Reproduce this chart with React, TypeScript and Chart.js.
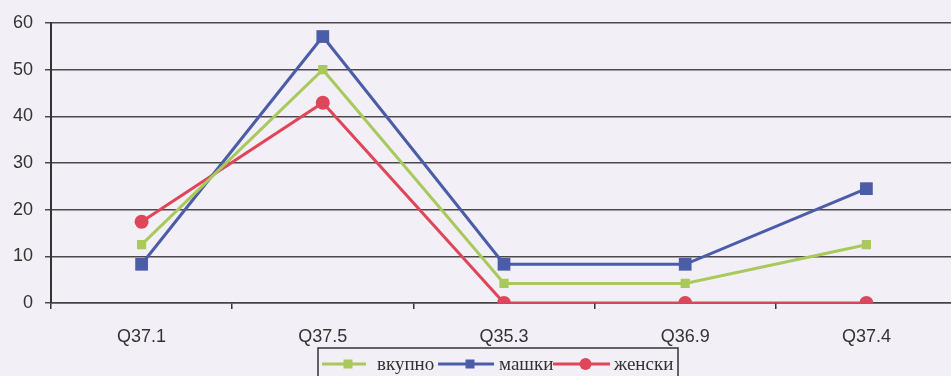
import React, { useEffect, useRef } from "react";
import { Chart, registerables } from "chart.js";

Chart.register(...registerables);

const categories = ["Q37.1", "Q37.5", "Q35.3", "Q36.9", "Q37.4"];
const vkupno = [12.5, 50, 4.2, 4.2, 12.5];
const mashki = [8.3, 57.1, 8.3, 8.3, 24.5];
const zhenski = [17.4, 42.9, 0, 0, 0];
const yTicks = [0, 10, 20, 30, 40, 50, 60];

const BG = "#f2eff6";
const GREEN = "#a9c95c";
const BLUE = "#4b5ca8";
const RED = "#e0465a";

const bgPlugin = {
  id: "bgFill",
  beforeDraw(chart: any) {
    const { ctx, width, height } = chart;
    ctx.save();
    ctx.fillStyle = BG;
    ctx.fillRect(0, 0, width, height);
    ctx.restore();
  },
};

const boxLegend = {
  id: "boxLegend",
  afterDraw(chart: any) {
    const { ctx } = chart;
    ctx.save();
    ctx.strokeStyle = "#333";
    ctx.lineWidth = 1.5;
    ctx.strokeRect(318, 348, 360, 40);
    const cy = 364;
    const items = [
      { label: "вкупно", color: GREEN, shape: "rect", r: 4.5, x0: 322, x1: 366, tx: 377 },
      { label: "машки", color: BLUE, shape: "rect", r: 4.5, x0: 438, x1: 494, tx: 499 },
      { label: "женски", color: RED, shape: "circle", r: 6, x0: 553, x1: 610, tx: 614 },
    ];
    ctx.font = "19px 'Liberation Serif', 'DejaVu Serif', serif";
    ctx.textBaseline = "middle";
    for (const it of items) {
      ctx.strokeStyle = it.color;
      ctx.lineWidth = 3;
      ctx.beginPath();
      ctx.moveTo(it.x0, cy);
      ctx.lineTo(it.x1, cy);
      ctx.stroke();
      ctx.fillStyle = it.color;
      const cx = (it.x0 + it.x1) / 2 + 4;
      if (it.shape === "rect") {
        ctx.fillRect(cx - it.r, cy - it.r, it.r * 2, it.r * 2);
      } else {
        ctx.beginPath();
        ctx.arc(cx, cy, it.r, 0, Math.PI * 2);
        ctx.fill();
      }
      ctx.fillStyle = "#333";
      ctx.fillText(it.label, it.tx, cy + 1);
    }
    ctx.restore();
  },
};

export default function App() {
  const ref = useRef<HTMLCanvasElement | null>(null);

  useEffect(() => {
    if (!ref.current) return;
    const chart = new Chart(ref.current, {
      type: "line",
      data: {
        labels: categories,
        datasets: [
          {
            label: "вкупно",
            data: vkupno,
            borderColor: GREEN,
            backgroundColor: GREEN,
            borderWidth: 3,
            pointStyle: "rect",
            pointRadius: 6.5,
            pointBorderWidth: 0,
            tension: 0,
          },
          {
            label: "машки",
            data: mashki,
            borderColor: BLUE,
            backgroundColor: BLUE,
            borderWidth: 3,
            pointStyle: "rect",
            pointRadius: 9,
            pointBorderWidth: 0,
            tension: 0,
          },
          {
            label: "женски",
            data: zhenski,
            borderColor: RED,
            backgroundColor: RED,
            borderWidth: 3,
            pointStyle: "circle",
            pointRadius: 7,
            pointBorderWidth: 0,
            tension: 0,
          },
        ],
      },
      options: {
        responsive: false,
        animation: false,
        layout: { padding: { top: 23, right: 0, bottom: 0, left: 0 } },
        plugins: {
          legend: { display: false },
          tooltip: { enabled: false },
        },
        scales: {
          x: {
            type: "category",
            offset: true,
            grid: {
              display: true,
              drawOnChartArea: false,
              offset: true,
              tickLength: 6,
              color: "#333",
              lineWidth: 1.5,
            },
            border: { display: true, color: "#444", width: 1.5 },
            ticks: {
              color: "#333",
              padding: 17,
              font: { family: "'Liberation Sans', Arial, sans-serif", size: 18 },
            },
            afterFit(scale: any) {
              scale.height = 73;
            },
          },
          y: {
            min: 0,
            max: 60,
            afterBuildTicks(scale: any) {
              scale.ticks = yTicks.map((v) => ({ value: v }));
            },
            grid: {
              color: "#4a4a4a",
              lineWidth: 1.5,
              tickLength: 6,
            },
            border: { display: true, color: "#333", width: 2 },
            ticks: {
              color: "#333",
              padding: 12,
              font: { family: "'Liberation Sans', Arial, sans-serif", size: 18 },
            },
            afterFit(scale: any) {
              scale.width = 51;
            },
          },
        },
      },
      plugins: [bgPlugin, boxLegend],
    });
    return () => chart.destroy();
  }, []);

  return (
    <div
      style={{
        position: "fixed",
        left: 0,
        top: 0,
        width: 951,
        height: 376,
        overflow: "hidden",
        background: BG,
      }}
    >
      <canvas
        ref={ref}
        width={966}
        height={376}
        style={{ display: "block", width: 966, height: 376 }}
      />
    </div>
  );
}
